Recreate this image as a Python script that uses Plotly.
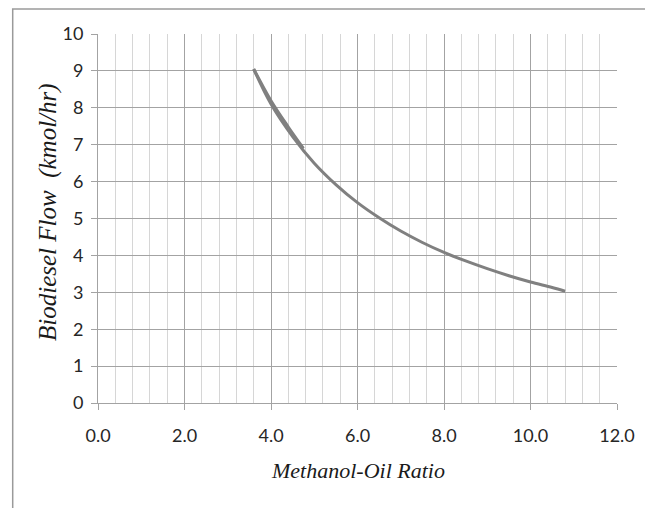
import plotly.graph_objects as go

# Data
ratio = [3.6, 4.0, 4.5, 5.0, 5.5, 6.0, 6.5, 7.0, 7.5, 8.0, 8.5, 9.0, 9.5, 10.0, 10.5, 10.8]
flow = [9.05, 8.1, 7.22, 6.5, 5.92, 5.43, 5.02, 4.66, 4.35, 4.08, 3.85, 3.64, 3.45, 3.28, 3.13, 3.03]
# short doubled branch near the start of the curve
ratio_b = [3.6, 4.0, 4.4, 4.75]
flow_b = [9.05, 8.19, 7.48, 6.9]

x_ticks = [0, 2, 4, 6, 8, 10, 12]
x_labels = ["0.0", "2.0", "4.0", "6.0", "8.0", "10.0", "12.0"]
y_ticks = list(range(0, 11))

line_col = "#808080"

fig = go.Figure()
fig.add_trace(go.Scatter(x=ratio, y=flow, mode="lines",
                         line=dict(color=line_col, width=3, shape="spline"),
                         showlegend=False))
fig.add_trace(go.Scatter(x=ratio_b, y=flow_b, mode="lines",
                         line=dict(color=line_col, width=3, shape="spline"),
                         showlegend=False))

tick_font = dict(family="Lato, Liberation Sans, sans-serif", size=18, color="#262626")
title_font_x = dict(family="Liberation Serif, Times New Roman, serif", size=22, color="#1a1a1a")
title_font_y = dict(family="Liberation Serif, Times New Roman, serif", size=25, color="#1a1a1a")

# body has an 8px margin in the page, so the figure is sized to fill the rest
W, H = 645, 500
L, R, T, B = 90, 36, 26, 105
pw, ph = W - L - R, H - T - B

fig.update_layout(
    width=W, height=H,
    margin=dict(l=L, r=R, t=T, b=B),
    paper_bgcolor="white", plot_bgcolor="white",
    xaxis=dict(range=[0, 12], tickvals=x_ticks, ticktext=x_labels,
               showgrid=True, gridcolor="#a3a3a3", gridwidth=1,
               minor=dict(dtick=0.4, tick0=0, showgrid=True, gridcolor="#d6d6d6", gridwidth=1),
               ticks="outside", ticklen=6, tickcolor="#a3a3a3",
               showline=True, linecolor="#a3a3a3", linewidth=1,
               zeroline=False, tickfont=tick_font, ticklabelstandoff=10),
    yaxis=dict(range=[0, 10], tickvals=y_ticks,
               showgrid=True, gridcolor="#a3a3a3", gridwidth=1,
               ticks="outside", ticklen=6, tickcolor="#a3a3a3",
               showline=True, linecolor="#a3a3a3", linewidth=1,
               zeroline=False, tickfont=tick_font, ticklabelstandoff=4),
    annotations=[
        dict(text="<i>Methanol-Oil Ratio</i>", xref="paper", yref="paper",
             x=0.5, y=(H - B - 462) / ph, xanchor="center", yanchor="middle",
             showarrow=False, font=title_font_x),
        dict(text="<i>Biodiesel Flow  (kmol/hr)</i>", xref="paper", yref="paper",
             x=(40 - L) / pw, y=(H - B - 204) / ph, xanchor="center", yanchor="middle",
             textangle=-90, showarrow=False, font=title_font_y),
    ],
    shapes=[dict(type="rect", xref="paper", yref="paper",
                 x0=(4.7 - L) / pw, x1=(644 - L) / pw,
                 y0=-(B + 20) / ph, y1=1 + (T - 1) / ph,
                 line=dict(color="#9a9a9a", width=1.5), layer="below")],
)

fig.write_html("out.html")
